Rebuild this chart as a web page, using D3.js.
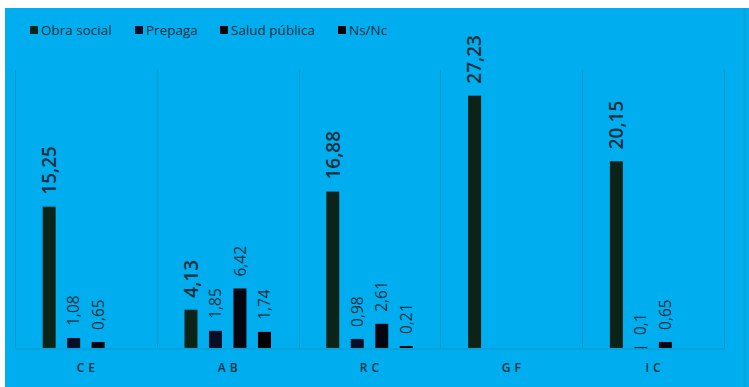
<!DOCTYPE html>
<html>
<head>
<meta charset="utf-8">
<script src="https://cdn.jsdelivr.net/npm/d3@7"></script>
<style>
html,body{margin:0;padding:0;background:#fff;}
svg{display:block;}
</style>
</head>
<body>
<svg id="chart" width="749" height="387"></svg>
<script>
const categories = ["CE", "AB", "RC", "GF", "IC"];
const seriesNames = ["Obra social", "Prepaga", "Salud pública", "Ns/Nc"];
const obraSocial   = [15.25, 4.13, 16.88, 27.23, 20.15];
const prepaga      = [1.08, 1.85, 0.98, null, 0.1];
const saludPublica = [0.65, 6.42, 2.61, null, 0.65];
const nsNc         = [null, 1.74, 0.21, null, null];
const seriesColors = ["#0c2418", "#0a0d26", "#050510", "#000000"];

const seriesValues = [obraSocial, prepaga, saludPublica, nsNc];

const svg = d3.select("#chart");
const W = 749, H = 387;
const plot = {left: 15, right: 724, top: 70, bottom: 348};

// background
svg.append("rect").attr("x", 5).attr("y", 8).attr("width", W - 5).attr("height", H - 8).attr("fill", "#00aeef");
svg.append("line").attr("x1", 744.5).attr("x2", 744.5).attr("y1", 8).attr("y2", H)
  .attr("stroke", "#0a9fd6").attr("stroke-width", 1.5);

const x = d3.scaleBand().domain(categories).range([plot.left, plot.right]).padding(0);
const xs = d3.scaleBand().domain(seriesNames).range([0, x.bandwidth()])
  .paddingInner(0.47).paddingOuter(1.13);
const y = d3.scaleLinear().domain([0, 30]).range([plot.bottom, plot.top]);

// category separators (gridlines)
const bounds = categories.map(c => x(c)).concat([x(categories[categories.length - 1]) + x.bandwidth()]);
svg.append("g").selectAll("line").data(bounds).join("line")
  .attr("x1", d => Math.round(d) + 0.5).attr("x2", d => Math.round(d) + 0.5)
  .attr("y1", plot.top).attr("y2", plot.bottom)
  .attr("stroke", "#0a97c9").attr("stroke-width", 1);

// x axis
const xAxis = svg.append("g").attr("transform", `translate(0,${plot.bottom + 0.5})`)
  .call(d3.axisBottom(x).tickSize(0).tickPadding(15));
xAxis.select(".domain").attr("stroke", "#0a97c9");
xAxis.selectAll("text")
  .attr("font-family", "'Open Sans', sans-serif").attr("font-size", 12).attr("font-weight", 600)
  .attr("letter-spacing", "4px").attr("fill", "#0f2f3c")
  .attr("dx", "2px");

// bars
const flat = [];
categories.forEach((c, i) => {
  seriesNames.forEach((s, j) => {
    const v = seriesValues[j][i];
    if (v !== null) flat.push({c, s, j, v});
  });
});

svg.append("g").selectAll("rect").data(flat).join("rect")
  .attr("x", d => x(d.c) + xs(d.s))
  .attr("width", xs.bandwidth())
  .attr("y", d => y(d.v))
  .attr("height", d => Math.max(y(0) - y(d.v), 1))
  .attr("fill", d => seriesColors[d.j]);

// labels
const fmt = v => String(v).replace(".", ",");
svg.append("g").selectAll("text").data(flat).join("text")
  .attr("transform", d => `translate(${x(d.c) + xs(d.s) + xs.bandwidth() / 2},${y(d.v) - 12}) rotate(-90)`)
  .attr("text-anchor", "start")
  .attr("dy", "0.36em")
  .attr("font-family", "'Open Sans', sans-serif")
  .attr("font-size", d => d.j === 0 ? 19 : 15.5)
  .attr("font-weight", d => d.j === 0 ? 600 : 400)
  .attr("fill", "#0f2f3c")
  .text(d => fmt(d.v));

// legend
const legendX = [30, 135, 220, 338];
const leg = svg.append("g").selectAll("g").data(seriesNames).join("g")
  .attr("transform", (d, i) => `translate(${legendX[i]},30)`);
leg.append("rect").attr("x", 0).attr("y", -4).attr("width", 8).attr("height", 8)
  .attr("fill", (d, i) => seriesColors[i]);
leg.append("text").attr("x", 11).attr("dy", "0.35em")
  .attr("font-family", "'Open Sans', sans-serif").attr("font-size", 13.5)
  .attr("fill", "#0f2f3c")
  .text(d => d);
</script>
</body>
</html>
